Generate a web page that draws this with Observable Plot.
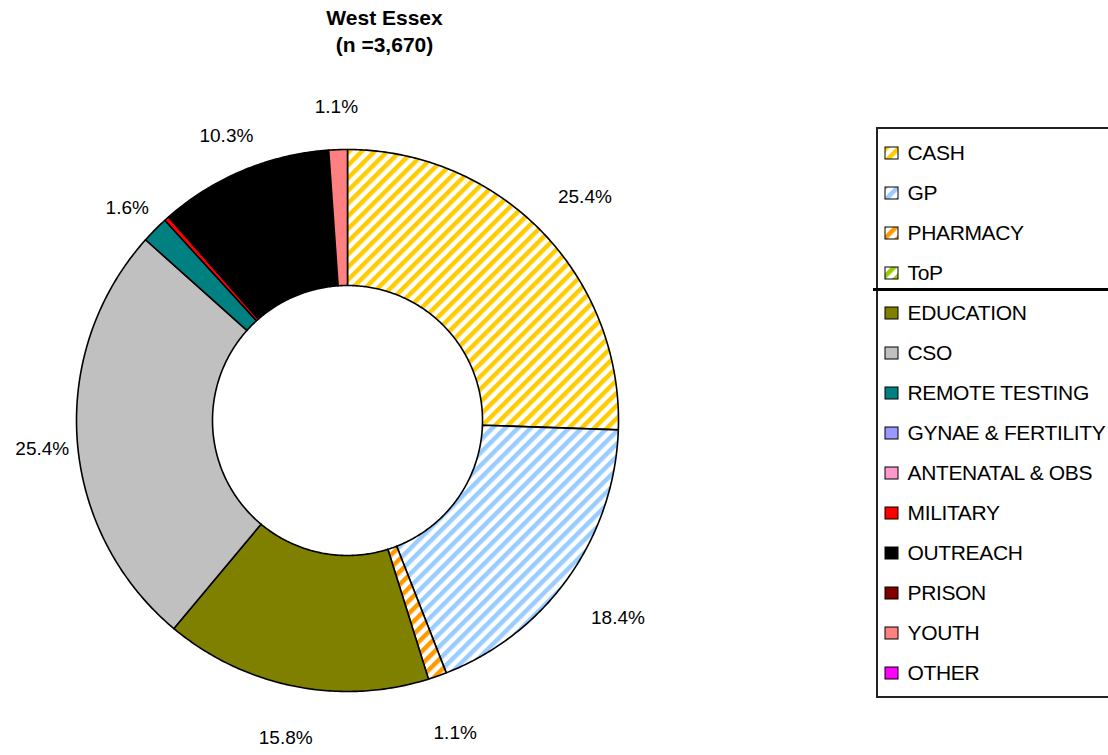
<!DOCTYPE html>
<html><head><meta charset="utf-8">
<script src="https://cdn.jsdelivr.net/npm/d3@7"></script>
<script src="https://cdn.jsdelivr.net/npm/@observablehq/plot@0.6"></script>
<style>html,body{margin:0;padding:0;background:#fff;overflow:hidden;} svg{display:block;}</style>
</head><body><div id="chart"></div>
<script>
// ---- data ----
const categories = ["CASH","GP","PHARMACY","ToP","EDUCATION","CSO","REMOTE TESTING","GYNAE & FERTILITY","ANTENATAL & OBS","MILITARY","OUTREACH","PRISON","YOUTH","OTHER"];
const percents   = [25.4, 18.4, 1.1, 0, 15.8, 25.4, 1.6, 0, 0, 0.3, 10.3, 0, 1.1, 0];
const valueLabels = ["25.4%","18.4%","1.1%","","15.8%","25.4%","1.6%","","","","10.3%","","1.1%",""];
const colors = ["#FFCC00","#99CCFF","#FF9900","#99CC00","#808000","#C0C0C0","#008080","#9999FF","#FF99CC","#FF0000","#000000","#800000","#FF8080","#FF00FF"];
const hatched = [true,true,true,true,false,false,false,false,false,false,false,false,false,false];
const titleLines = ["West Essex","(n =3,670)"];

// ---- layout ----
const W = 1108, H = 755;
const cx = 347, cy = 420, R0 = 271, R1 = 135;
const fillOf = i => hatched[i] ? `url(#hatch${i})` : colors[i];

const arcs = d3.pie().sort(null).value(d => d)(percents);
const polys = [];
const labelRows = [];
arcs.forEach((a, i) => {
  if (a.value <= 0) return;
  const pts = [];
  const n = Math.max(2, Math.ceil((a.endAngle - a.startAngle) / 0.01));
  for (let k = 0; k <= n; k++) {
    const t = a.startAngle + (a.endAngle - a.startAngle) * k / n;
    pts.push({x: cx + R0 * Math.sin(t), y: cy - R0 * Math.cos(t)});
  }
  for (let k = n; k >= 0; k--) {
    const t = a.startAngle + (a.endAngle - a.startAngle) * k / n;
    pts.push({x: cx + R1 * Math.sin(t), y: cy - R1 * Math.cos(t)});
  }
  polys.push({i, pts});
  const m = (a.startAngle + a.endAngle) / 2;
  const lr = 320 + 14 * Math.sin(m);
  if (valueLabels[i]) labelRows.push({x: cx + lr * Math.sin(m), y: cy + 6 - lr * Math.cos(m), text: valueLabels[i]});
});

const legendRows = categories.map((c, i) => ({name: c, i, y: 153 + 40 * i, fill: fillOf(i)}));

const marks = [];
for (const p of polys) {
  marks.push(Plot.line(p.pts, {x: "x", y: "y", curve: "linear-closed", fill: fillOf(p.i), stroke: "black", strokeWidth: 1.6, strokeLinejoin: "round"}));
}
marks.push(
  Plot.text(labelRows, {x: "x", y: "y", text: "text", fontSize: 19, fill: "black", textAnchor: "middle"}),
  Plot.text(titleLines, {x: () => 384, y: (d, i) => 18 + 27 * i, text: d => d, fontSize: 21, fontWeight: "bold", fill: "black"}),
  // legend frame
  Plot.rect([0], {x1: 877, x2: 1120, y1: 128, y2: 697, fill: "white", stroke: "#222", strokeWidth: 2}),
  Plot.rect(legendRows, {x1: 885, x2: 898, y1: d => d.y - 6, y2: d => d.y + 6, fill: d => d.fill, stroke: "black", strokeWidth: 1}),
  Plot.text(legendRows, {x: 907, y: "y", text: "name", textAnchor: "start", fontSize: 21, fill: "black", className: "legtext"}),
  Plot.ruleY([289], {x1: 873, x2: 1108, stroke: "black", strokeWidth: 3})
);

const svg = Plot.plot({
  width: W, height: H, margin: 0,
  x: {domain: [0, W], range: [0, W], axis: null},
  y: {domain: [0, H], range: [0, H], axis: null},
  color: {type: "identity"},
  style: {fontFamily: "'Liberation Sans', Arial, sans-serif", background: "white", overflow: "hidden"},
  marks
});

const defs = d3.select(svg).insert("defs", ":first-child");
colors.forEach((c, i) => {
  if (!hatched[i]) return;
  const p = defs.append("pattern").attr("id", `hatch${i}`).attr("patternUnits", "userSpaceOnUse")
    .attr("width", 9).attr("height", 9).attr("patternTransform", "rotate(45)");
  p.append("rect").attr("width", 9).attr("height", 9).attr("fill", "white");
  p.append("rect").attr("width", 4.5).attr("height", 9).attr("fill", c);
});
d3.select(svg).selectAll(".legtext text").style("letter-spacing", "-0.35px");
document.getElementById("chart").appendChild(svg);
</script>
</body></html>
